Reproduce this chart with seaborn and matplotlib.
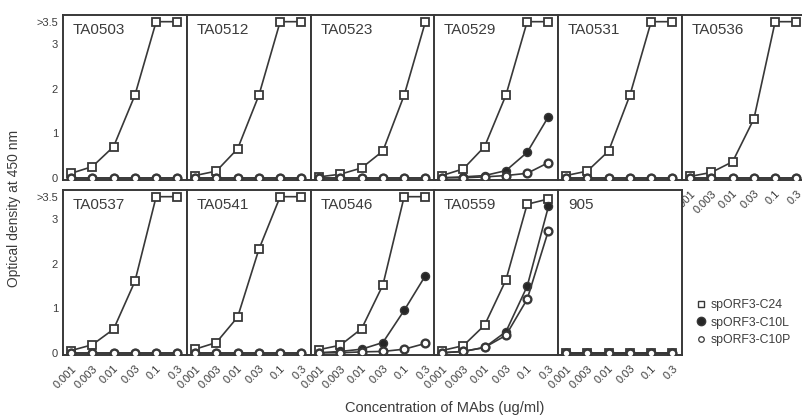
import matplotlib
matplotlib.use("Agg")
import matplotlib.pyplot as plt
import matplotlib.lines as mlines
import numpy as np
import pandas as pd
import seaborn as sns

# ---------------- data ----------------
conc_labels = ["0.001", "0.003", "0.01", "0.03", "0.1", "0.3"]
top_panels = ["TA0503", "TA0512", "TA0523", "TA0529", "TA0531", "TA0536"]
bottom_panels = ["TA0537", "TA0541", "TA0546", "TA0559", "905"]
series_names = ["spORF3-C24", "spORF3-C10L", "spORF3-C10P"]

c24_values = {
    "TA0503": [0.10, 0.25, 0.70, 1.85, 3.5, 3.5],
    "TA0512": [0.05, 0.15, 0.65, 1.85, 3.5, 3.5],
    "TA0523": [0.02, 0.08, 0.22, 0.60, 1.85, 3.5],
    "TA0529": [0.05, 0.20, 0.70, 1.85, 3.5, 3.5],
    "TA0531": [0.05, 0.15, 0.60, 1.85, 3.5, 3.5],
    "TA0536": [0.03, 0.12, 0.36, 1.32, 3.5, 3.5],
    "TA0537": [0.05, 0.18, 0.53, 1.60, 3.5, 3.5],
    "TA0541": [0.08, 0.23, 0.80, 2.32, 3.5, 3.5],
    "TA0546": [0.07, 0.17, 0.54, 1.52, 3.5, 3.5],
    "TA0559": [0.05, 0.16, 0.62, 1.63, 3.33, 3.45],
    "905":    [0.0, 0.0, 0.0, 0.0, 0.0, 0.0],
}
c10l_values = {
    "TA0529": [0.0, 0.02, 0.05, 0.16, 0.57, 1.37],
    "TA0546": [0.0, 0.03, 0.08, 0.23, 0.95, 1.73],
    "TA0559": [0.0, 0.03, 0.12, 0.47, 1.49, 3.28],
}
c10p_values = {
    "TA0529": [0.0, 0.0, 0.02, 0.05, 0.10, 0.34],
    "TA0546": [0.0, 0.0, 0.02, 0.03, 0.08, 0.21],
    "TA0559": [0.0, 0.03, 0.12, 0.39, 1.20, 2.74],
}
zero_values = [0.0, 0.0, 0.0, 0.0, 0.0, 0.0]

ytick_vals = [0, 1, 2, 3, 3.5]
ytick_labels = ["0", "1", "2", "3", ">3.5"]

# ---------------- style ----------------
sns.set_theme(style="white")
plt.rcParams["font.family"] = ["Liberation Sans", "DejaVu Sans"]
ink = "#383838"
txt = "#3c3c3c"

W, H = 802, 415
fig = plt.figure(figsize=(W / 100, H / 100), dpi=100)
fig.patch.set_facecolor("white")

col_left = [63, 187, 311, 434, 558, 682]
panel_w = 124
row_top = [15, 190]
panel_h = 165

xpos = np.arange(len(conc_labels))


def make_ax(col, row):
    left = col_left[col] / W
    bottom = 1 - (row_top[row] + panel_h) / H
    ax = fig.add_axes([left, bottom, panel_w / W, panel_h / H])
    ax.set_xlim(-0.38, 5.45)
    ax.set_ylim(-0.05, 3.65)
    for s in ax.spines.values():
        s.set_color(ink)
        s.set_linewidth(1.4)
    ax.set_yticks(ytick_vals)
    ax.set_yticks(np.arange(0.5, 3.5, 1.0), minor=True)
    ax.set_xticks(xpos)
    ax.tick_params(axis="both", which="both", direction="in", colors=ink,
                   length=3, width=0.9, labelcolor=txt)
    ax.tick_params(axis="y", which="minor", length=2.5)
    if col == 0:
        ax.set_yticklabels(ytick_labels, fontsize=8)
    else:
        ax.set_yticklabels([])
    ax.set_xticklabels([])
    ax.set_xlabel("")
    ax.set_ylabel("")
    return ax


def draw(ax, name):
    c24 = c24_values[name]
    c10l = c10l_values.get(name, zero_values)
    c10p = c10p_values.get(name, zero_values)
    sns.lineplot(x=xpos, y=c24, ax=ax, color=ink, linewidth=1.2,
                 marker="s", markersize=5.6, markerfacecolor="white",
                 markeredgecolor=ink, markeredgewidth=1.3, zorder=3)
    sns.lineplot(x=xpos, y=c10l, ax=ax, color=ink, linewidth=1.2,
                 marker="o", markersize=5.8, markerfacecolor="#262626",
                 markeredgecolor=ink, markeredgewidth=1.0, zorder=4)
    sns.lineplot(x=xpos, y=c10p, ax=ax, color=ink, linewidth=1.2,
                 marker="o", markersize=5.6, markerfacecolor="white",
                 markeredgecolor=ink, markeredgewidth=1.7, zorder=5)
    ax.text(0.08, 0.95, name, transform=ax.transAxes, ha="left", va="top",
            fontsize=11, color=txt)


def set_xlabels(ax):
    ax.set_xticklabels(conc_labels, rotation=45, ha="right",
                       rotation_mode="anchor", fontsize=8, color=txt)
    ax.tick_params(axis="x", pad=6)


for i, name in enumerate(top_panels):
    ax = make_ax(i, 0)
    draw(ax, name)
    if i == 5:
        set_xlabels(ax)

for i, name in enumerate(bottom_panels):
    ax = make_ax(i, 1)
    draw(ax, name)
    set_xlabels(ax)

# legend
h1 = mlines.Line2D([], [], linestyle="none", marker="s", markersize=5,
                   markerfacecolor="white", markeredgecolor=ink, markeredgewidth=1.0)
h2 = mlines.Line2D([], [], linestyle="none", marker="o", markersize=6,
                   markerfacecolor="#262626", markeredgecolor=ink)
h3 = mlines.Line2D([], [], linestyle="none", marker="o", markersize=4,
                   markerfacecolor="white", markeredgecolor=ink, markeredgewidth=0.9)
fig.legend([h1, h2, h3], series_names, loc="upper left",
           bbox_to_anchor=(690 / W, 1 - 293 / H), frameon=False,
           fontsize=8.8, handlelength=0.8, handletextpad=0.4,
           labelspacing=0.45, labelcolor=txt, borderpad=0)

fig.text(14 / W, 1 - 208 / H, "Optical density at 450 nm", rotation=90,
         ha="center", va="center", fontsize=10, color=txt)
fig.text(445 / W, 1 - 408 / H, "Concentration of MAbs (ug/ml)",
         ha="center", va="center", fontsize=10.5, color=txt)

fig.savefig("out.png", dpi=100, facecolor="white")
